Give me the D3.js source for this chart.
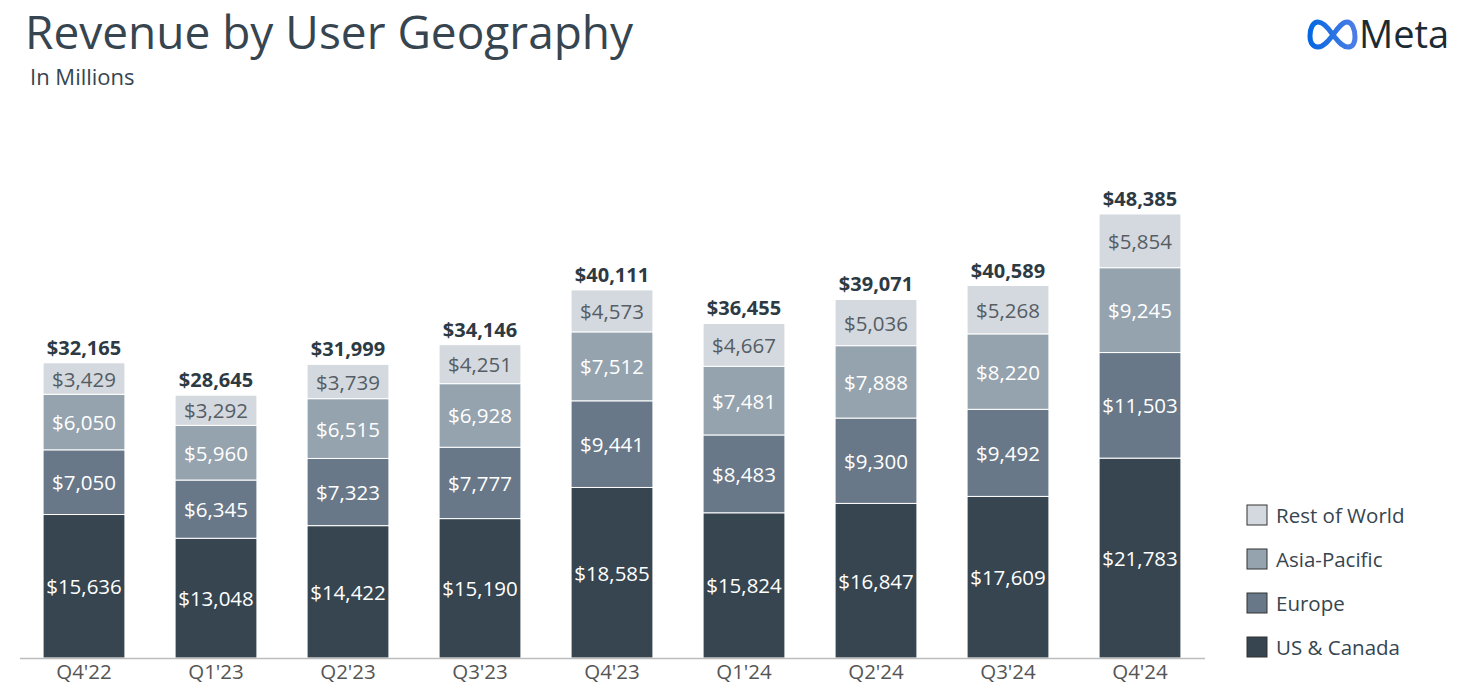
<!DOCTYPE html>
<html lang="en">
<head>
  <meta charset="UTF-8" />
  <title>Revenue by User Geography</title>
  <style>
    body { margin:0; background:#fff; font-family:"Open Sans", Lato, sans-serif; }
    #chart { display:block; }
  </style>
</head>
<body>
  <svg id="chart" width="1467" height="699"></svg>

  <script src="https://d3js.org/d3.v7.min.js"></script>
  <script>
  // data (USD millions)
  const quarters   = ["Q4'22","Q1'23","Q2'23","Q3'23","Q4'23","Q1'24","Q2'24","Q3'24","Q4'24"];
  const usCanada   = [15636, 13048, 14422, 15190, 18585, 15824, 16847, 17609, 21783];
  const europe     = [7050, 6345, 7323, 7777, 9441, 8483, 9300, 9492, 11503];
  const asiaPac    = [6050, 5960, 6515, 6928, 7512, 7481, 7888, 8220, 9245];
  const restWorld  = [3429, 3292, 3739, 4251, 4573, 4667, 5036, 5268, 5854];
  const totals     = [32165, 28645, 31999, 34146, 40111, 36455, 39071, 40589, 48385];
  const seriesNames = ["US & Canada","Europe","Asia-Pacific","Rest of World"];

  const colors    = { "US & Canada":"#36454f", "Europe":"#687888", "Asia-Pacific":"#95a3ae", "Rest of World":"#d3d9df" };
  const textColor = { "US & Canada":"#fff", "Europe":"#fff", "Asia-Pacific":"#fff", "Rest of World":"#565d64" };

  const svg = d3.select("#chart");
  const baseY = 658, topY = 214;
  const font = "'Open Sans', Lato, sans-serif";

  // build table for stack
  const table = quarters.map((q,i)=>({
    q, "US & Canada":usCanada[i], "Europe":europe[i], "Asia-Pacific":asiaPac[i], "Rest of World":restWorld[i]
  }));
  const stacked = d3.stack().keys(seriesNames)(table);

  const x = d3.scaleBand().domain(quarters).range([18,1206])
              .paddingInner(0.38).paddingOuter(0.19);
  const y = d3.scaleLinear().domain([0, d3.max(totals)]).range([baseY, topY]);
  const fmt = d3.format("$,");

  // title
  svg.append("text").attr("x",25).attr("y",49)
     .style("font-size","46px").style("fill","#36454f")
     .text("Revenue by User Geography");
  svg.append("text").attr("x",30).attr("y",85)
     .style("font-size","22px").style("fill","#36454f")
     .text("In Millions");

  // meta logo
  const grad = svg.append("defs").append("linearGradient").attr("id","mg")
     .attr("x1","0").attr("x2","1");
  grad.append("stop").attr("offset","0").attr("stop-color","#0668E1");
  grad.append("stop").attr("offset","1").attr("stop-color","#4c7de6");
  svg.append("path")
     .attr("d","M1333,35 C1327,26 1322,22 1318,22 C1313,22 1310,28 1310,36 C1310,43 1313,47 1318,47 C1324,47 1329,40 1333,35 C1338,28 1342,22 1347,22 C1352,22 1355,29 1355,37 C1355,44 1352,47 1348,47 C1342,47 1338,41 1333,35 Z")
     .attr("fill","none").attr("stroke","url(#mg)").attr("stroke-width",5);
  svg.append("text").attr("x",1359).attr("y",48)
     .style("font-size","38px").style("font-weight","500").style("fill","#1c2b33")
     .text("Meta");

  // bars
  const layers = svg.append("g").selectAll("g").data(stacked).join("g")
     .attr("fill",d=>colors[d.key]);
  layers.selectAll("rect").data(d=>d).join("rect")
     .attr("x",d=>x(d.data.q)).attr("width",x.bandwidth())
     .attr("y",d=>y(d[1])).attr("height",d=>y(d[0])-y(d[1]))
     .attr("stroke","#fff").attr("stroke-width",1);

  // segment labels
  stacked.forEach(layer=>{
    svg.append("g").selectAll("text").data(layer).join("text")
       .attr("x",d=>x(d.data.q)+x.bandwidth()/2)
       .attr("y",d=>(y(d[0])+y(d[1]))/2)
       .attr("text-anchor","middle").attr("dominant-baseline","central")
       .style("font-size","20.5px").style("fill",textColor[layer.key])
       .text(d=>fmt(d[1]-d[0]));
  });

  // totals
  svg.append("g").selectAll("text").data(quarters).join("text")
     .attr("x",d=>x(d)+x.bandwidth()/2)
     .attr("y",(d,i)=>y(totals[i])-8)
     .attr("text-anchor","middle")
     .style("font-size","20px").style("font-weight","bold").style("fill","#2d3a44")
     .text((d,i)=>fmt(totals[i]));

  // x axis
  const gx = svg.append("g").attr("transform",`translate(0,${baseY})`)
     .call(d3.axisBottom(x).tickSize(0).tickPadding(6));
  gx.select(".domain").attr("stroke","#bdbdbd").attr("stroke-width",1.5)
     .attr("d","M20,0.5H1205");
  gx.selectAll("text").style("font-size","20.5px").style("fill","#555")
     .style("font-family",font);

  // legend
  const legend = svg.append("g").selectAll("g").data(seriesNames.slice().reverse()).join("g")
     .attr("transform",(d,i)=>`translate(1247,${505+i*44})`);
  legend.append("rect").attr("width",20).attr("height",20)
     .attr("fill",d=>colors[d]).attr("stroke","#333").attr("stroke-width",1);
  legend.append("text").attr("x",29).attr("y",10).attr("dominant-baseline","central")
     .style("font-size","20.5px").style("fill","#36454f")
     .text(d=>d);
  </script>
</body>
</html>
